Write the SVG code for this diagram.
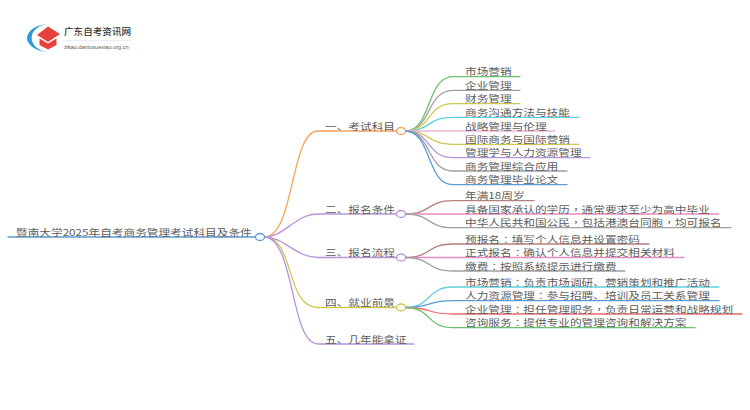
<svg xmlns="http://www.w3.org/2000/svg" width="750" height="410" viewBox="0 0 750 410">
<style>
text{font-family:"Noto Sans CJK SC","Liberation Sans",sans-serif;font-size:11.67px;fill:#5c5c5c}
tspan{font-family:"Noto Sans CJK TC","Liberation Sans",sans-serif}
.c path,.c line{fill:none;stroke-width:1.3;stroke-linecap:round}
.n{fill:#fff;stroke-width:1.3}
.or{stroke:#f7a35c}.pu{stroke:#b794d9}.ol{stroke:#cfc84f}.bl{stroke:#5b9bd5}.gr{stroke:#6cc06c}.gy{stroke:#a0a0a0}.cy{stroke:#5fd0e0}.pk{stroke:#efb3d8}.br{stroke:#b57f7a}.mg{stroke:#e88cc4}.rd{stroke:#f06a6a}
</style>
<rect width="750" height="410" fill="#fff"/>
<g id="logo">
<path d="M50 24A23 14 0 0 0 50 52A17 13 0 0 1 50 24Z" fill="#2f9ad8"/>
<path d="M37 35L48 26.500L60 34L48 42Z" fill="#e8413c"/>
<path d="M39.500 38.500L48 43.500L56.500 38.500V45L48 49.500L39.500 45Z" fill="#e8413c"/>
<text transform="matrix(1 0 0 .9 64 35)" style="font-size:9.6px;fill:#333;font-weight:500">广东自考资讯网</text>
<line x1="63" y1="40.500" x2="131" y2="40.500" stroke="#e4e4e4" stroke-width="0.7"/>
<text x="64" y="49" style="font-size:5.6px;fill:#555;font-family:'Liberation Sans',sans-serif">zikao.daniuxuexiao.org.cn</text>
</g>
<g id="connectors" class="c">
<line class="bl" x1="8" y1="237" x2="255" y2="237"/>
<path class="or" d="M264 237C295 237 290 131 318 131H396"/>
<path class="pu" d="M264 237C285 237 295 214 318 214H396"/>
<path class="pu" d="M264 237C285 237 295 257.500 318 257.500H396"/>
<path class="ol" d="M264 237C295 237 285 307.500 318 307.500H396"/>
<path class="pu" d="M264 237C295 237 290 344 318 344H414"/>
<path class="gr" d="M405 131C432 131 426 76.700 453 76.700H520"/>
<path class="gy" d="M405 131C432 131 426 90.300 453 90.300H520"/>
<path class="ol" d="M405 131C432 131 426 103.700 453 103.700H520"/>
<path class="cy" d="M405 131C432 131 426 117.300 453 117.300H579"/>
<path class="pk" d="M405 131H555"/>
<path class="ol" d="M405 131C432 131 426 144.300 453 144.300H579"/>
<path class="pu" d="M405 131C432 131 426 157.700 453 157.700H590"/>
<path class="gy" d="M405 131C432 131 426 171 453 171H567"/>
<path class="bl" d="M405 131C432 131 426 184.700 453 184.700H567"/>
<path class="br" d="M405 214C432 214 426 200.700 453 200.700H534"/>
<path class="mg" d="M405 214H719"/>
<path class="gy" d="M405 214C432 214 426 227.700 453 227.700H731"/>
<path class="br" d="M405 257.500C432 257.500 426 244 453 244H649"/>
<path class="mg" d="M405 257.500H684"/>
<path class="gy" d="M405 257.500C432 257.500 426 271 453 271H625"/>
<path class="cy" d="M405 307.500C432 307.500 426 287 453 287H719"/>
<path class="bl" d="M405 307.500C432 307.500 426 300.700 453 300.700H719"/>
<path class="rd" d="M405 307.500C432 307.500 426 314 453 314H742"/>
<path class="gr" d="M405 307.500C432 307.500 426 327.700 453 327.700H695"/>
</g>
<g id="root"><ellipse class="n bl" cx="260" cy="237" rx="4.500" ry="3.500"/><text transform="matrix(1 0 0 .78 16 235.500)">暨南大学2025年自考商务管理考试科目及条件</text></g>
<g id="n1"><ellipse class="n or" cx="401" cy="131" rx="4.500" ry="3.500"/><text transform="matrix(1 0 0 .78 325 129.500)">一、考试科目</text></g>
<g id="n2"><ellipse class="n pu" cx="401" cy="214" rx="4.500" ry="3.500"/><text transform="matrix(1 0 0 .78 325 212.500)">二、报名条件</text></g>
<g id="n3"><ellipse class="n pu" cx="401" cy="257.500" rx="4.500" ry="3.500"/><text transform="matrix(1 0 0 .78 325 256)">三、报名流程</text></g>
<g id="n4"><ellipse class="n ol" cx="401" cy="307.500" rx="4.500" ry="3.500"/><text transform="matrix(1 0 0 .78 325 306)">四、就业前景</text></g>
<g id="n5"><text transform="matrix(1 0 0 .78 325 342.500)">五、几年能拿证</text></g>
<g id="leaves1">
<text transform="matrix(1 0 0 .78 465 75.200)">市场营销</text>
<text transform="matrix(1 0 0 .78 465 88.800)">企业管理</text>
<text transform="matrix(1 0 0 .78 465 102.200)">财务管理</text>
<text transform="matrix(1 0 0 .78 465 115.800)">商务沟通方法与技能</text>
<text transform="matrix(1 0 0 .78 465 129.500)">战略管理与伦理</text>
<text transform="matrix(1 0 0 .78 465 142.800)">国际商务与国际营销</text>
<text transform="matrix(1 0 0 .78 465 156.200)">管理学与人力资源管理</text>
<text transform="matrix(1 0 0 .78 465 169.500)">商务管理综合应用</text>
<text transform="matrix(1 0 0 .78 465 183.200)">商务管理毕业论文</text>
</g>
<g id="leaves2">
<text transform="matrix(1 0 0 .78 465 199.200)">年满18周岁</text>
<text transform="matrix(1 0 0 .78 465 212.500)">具备国家承认的学历<tspan>，</tspan>通常要求至少为高中毕业</text>
<text transform="matrix(1 0 0 .78 465 226.200)">中华人民共和国公民<tspan>，</tspan>包括港澳台同胞<tspan>，</tspan>均可报名</text>
</g>
<g id="leaves3">
<text transform="matrix(1 0 0 .78 465 242.500)">预报名<tspan>：</tspan>填写个人信息并设置密码</text>
<text transform="matrix(1 0 0 .78 465 256)">正式报名<tspan>：</tspan>确认个人信息并提交相关材料</text>
<text transform="matrix(1 0 0 .78 465 269.500)">缴费<tspan>：</tspan>按照系统提示进行缴费</text>
</g>
<g id="leaves4">
<text transform="matrix(1 0 0 .78 465 285.500)">市场营销<tspan>：</tspan>负责市场调研、营销策划和推广活动</text>
<text transform="matrix(1 0 0 .78 465 299.200)">人力资源管理<tspan>：</tspan>参与招聘、培训及员工关系管理</text>
<text transform="matrix(1 0 0 .78 465 312.500)">企业管理<tspan>：</tspan>担任管理职务<tspan>，</tspan>负责日常运营和战略规划</text>
<text transform="matrix(1 0 0 .78 465 326.200)">咨询服务<tspan>：</tspan>提供专业的管理咨询和解决方案</text>
</g>
</svg>
